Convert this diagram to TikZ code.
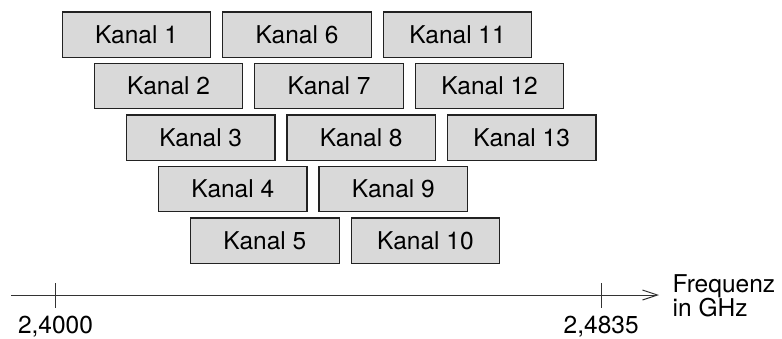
\documentclass[tikz,border=0pt]{standalone}
\usepackage{fontspec}
\setmainfont{TeX Gyre Heros}
\usetikzlibrary{arrows.meta}
\definecolor{boxfill}{HTML}{D9D9D9}
\definecolor{boxline}{HTML}{222222}
\definecolor{axisline}{HTML}{333333}
\tikzset{
  x=1pt, y=-1pt,
  kanal/.style={draw=boxline, fill=boxfill, line width=1.2pt,
    minimum width=148.5pt, minimum height=45.3pt, inner sep=0pt,
    font=\fontsize{24.5}{28}\selectfont},
  achse/.style={draw=axisline, line width=1pt},
  marke/.style={draw=axisline, line width=1pt},
  skala/.style={inner sep=0pt, font=\fontsize{24.5}{28}\selectfont},
}
\begin{document}
\begin{tikzpicture}
\useasboundingbox (0,0) rectangle (782,338);
% channel blocks: five rows, each shifted right by one step
\foreach \r in {0,...,4}{
  \foreach \c in {0,1,2}{
    \pgfmathtruncatemacro{\k}{\r+1+5*\c}
    \ifnum\k<14
      \node[kanal] (k\k) at ({136.5+32.1*\r+160.5*\c},{34.6+51.5*\r}) {Kanal \k};
    \fi
  }
}
% frequency axis
\coordinate (a0) at (11,295);
\coordinate (a1) at (659,295);
\draw[achse, -{Straight Barb[length=15pt,width=10pt,line width=1pt]}] (a0) -- (a1);
\coordinate (t1) at (55.5,295);
\coordinate (t2) at (601.7,295);
\draw[marke] ([yshift=-12.5pt]t1) -- ([yshift=12.5pt]t1);
\draw[marke] ([yshift=-12.5pt]t2) -- ([yshift=12.5pt]t2);
\node[skala, anchor=base] (l1) at (55.5,333.5) {2,4000};
\node[skala, anchor=base] (l2) at (601.2,333.5) {2,4835};
\node[skala, anchor=north west, align=left,
  font=\fontsize{24.5}{21.5}\selectfont] (f) at (672.5,274) {Frequenz\\in GHz};
\end{tikzpicture}
\end{document}
